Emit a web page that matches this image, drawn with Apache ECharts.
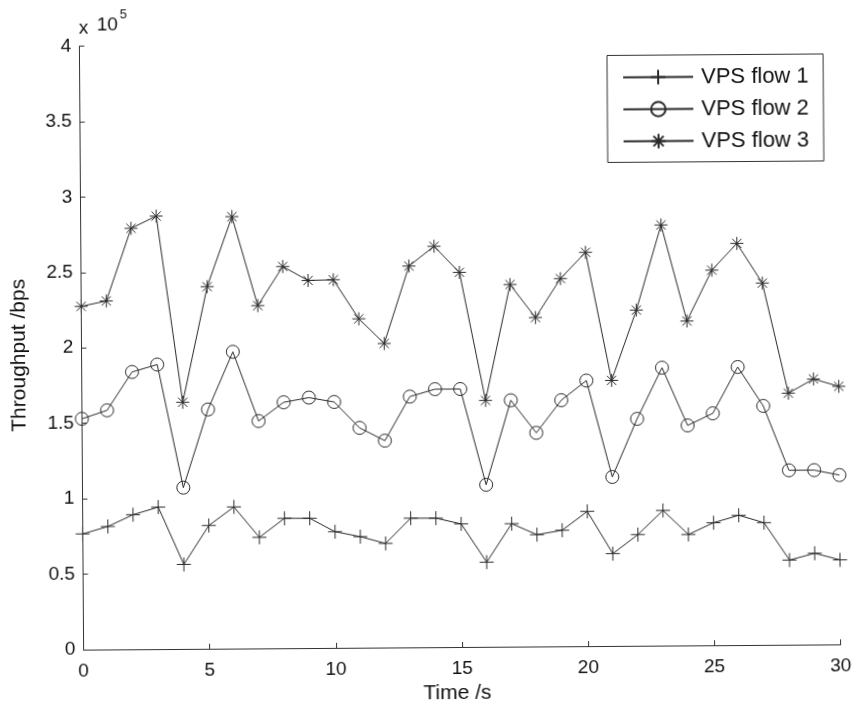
<!DOCTYPE html>
<html>
<head>
<meta charset="utf-8">
<script src="https://cdn.jsdelivr.net/npm/echarts@6/dist/echarts.min.js"></script>
<style>
  html, body { margin: 0; padding: 0; background: #fff; }
  #chart { width: 859px; height: 711px; transform: rotate(-0.4deg); transform-origin: 460px 345px; }
</style>
</head>
<body>
<div id="chart"></div>
<script>
// Sample times (s)
const timeSec = [0, 1, 2, 3, 4, 5, 6, 7, 8, 9, 10, 11, 12, 13, 14, 15, 16, 17, 18, 19, 20, 21, 22, 23, 24, 25, 26, 27, 28, 29, 30];

// Throughput of each VPS flow (bps)
const flow1 = [76700, 81500, 89200, 94100, 56000, 81700, 93900, 73600, 86100, 86000, 77000, 73600, 69000, 85600, 85500, 81600, 56100, 81500, 74100, 76900, 89300, 61200, 73700, 89600, 73500, 81200, 86000, 81000, 56100, 60500, 56000];
const flow2 = [153000, 158500, 183800, 188600, 106900, 158600, 196700, 150700, 163000, 166000, 163000, 145700, 137100, 166200, 171000, 171000, 107400, 163300, 141600, 163100, 176000, 112000, 150400, 184200, 145800, 153700, 184300, 158400, 115600, 115600, 112200];
const flow3 = [227500, 231000, 279000, 287000, 163500, 240000, 286300, 227200, 253000, 243600, 244000, 218000, 201500, 252700, 265700, 248300, 163300, 240000, 218000, 243700, 261000, 176000, 222500, 278800, 215000, 248600, 266200, 239800, 166700, 176000, 171000];

const seriesNames = ['VPS flow 1', 'VPS flow 2', 'VPS flow 3'];
const yScale = 1e5;

const FONT = 'Liberation Sans, Arial, sans-serif';
const INK = '#2a2a2a';
const TEXT = '#111';

// Marker shapes: plus, hollow circle, asterisk
const PLUS = 'path://M0,-10L0,10M-10,0L10,0';
const STAR = 'path://M0,-10L0,10M-10,0L10,0M-7.07,-7.07L7.07,7.07M-7.07,7.07L7.07,-7.07';

function lineSeries(name, values, symbol, size) {
  return {
    name: name,
    type: 'line',
    data: timeSec.map((t, i) => [t, values[i]]),
    symbol: symbol,
    symbolSize: size,
    showSymbol: true,
    lineStyle: { color: INK, width: 1 },
    itemStyle: { color: 'none', borderColor: INK, borderWidth: 1 },
    emphasis: { disabled: true },
    animation: false
  };
}

const chart = echarts.init(document.getElementById('chart'), null, { renderer: 'canvas' });

chart.setOption({
  backgroundColor: '#fff',
  animation: false,
  grid: { left: 81.4, right: 20.5, top: 43.5, bottom: 64, containLabel: false },
  xAxis: {
    type: 'value', min: 0, max: 30, interval: 5,
    axisLine: { onZero: false, lineStyle: { color: '#333', width: 1 } },
    axisTick: { inside: true, length: 5, lineStyle: { color: '#333' } },
    axisLabel: { fontFamily: FONT, fontSize: 19, color: TEXT, margin: 12 },
    splitLine: { show: false },
    name: 'Time /s', nameLocation: 'middle', nameGap: 33,
    nameTextStyle: { fontFamily: FONT, fontSize: 21, color: TEXT, padding: [0, 10, 0, 0] }
  },
  yAxis: {
    type: 'value', min: 0, max: 4e5, interval: 5e4,
    axisLine: { show: true, onZero: false, lineStyle: { color: '#333', width: 1 } },
    axisTick: { show: true, inside: true, length: 5, lineStyle: { color: '#333' } },
    axisLabel: { fontFamily: FONT, fontSize: 19, color: TEXT, margin: 8,
      formatter: v => String(v / yScale) },
    splitLine: { show: false },
    name: 'Throughput /bps', nameLocation: 'middle', nameGap: 52,
    nameTextStyle: { fontFamily: FONT, fontSize: 21, color: TEXT, padding: [0, 14, 0, 0] }
  },
  legend: {
    orient: 'vertical', left: 609, top: 56.5,
    itemWidth: 70, itemHeight: 18, itemGap: 10,
    padding: [11, 14.5, 10, 15],
    borderColor: '#333', borderWidth: 1, backgroundColor: '#fff',
    selectedMode: false,
    textStyle: { fontFamily: FONT, fontSize: 22, color: TEXT, padding: [0, 0, 0, 3] },
    data: seriesNames
  },
  graphic: [
    { type: 'text', left: 81, top: 16, style: { text: 'x', font: '19px ' + FONT, fill: TEXT } },
    { type: 'text', left: 99, top: 13, style: { text: '10', font: '19px ' + FONT, fill: TEXT } },
    { type: 'text', left: 122, top: 6, style: { text: '5', font: '13px ' + FONT, fill: TEXT } }
  ],
  series: [
    lineSeries(seriesNames[0], flow1, PLUS, 14),
    lineSeries(seriesNames[1], flow2, 'circle', 13),
    lineSeries(seriesNames[2], flow3, STAR, 13)
  ]
});
</script>
</body>
</html>
